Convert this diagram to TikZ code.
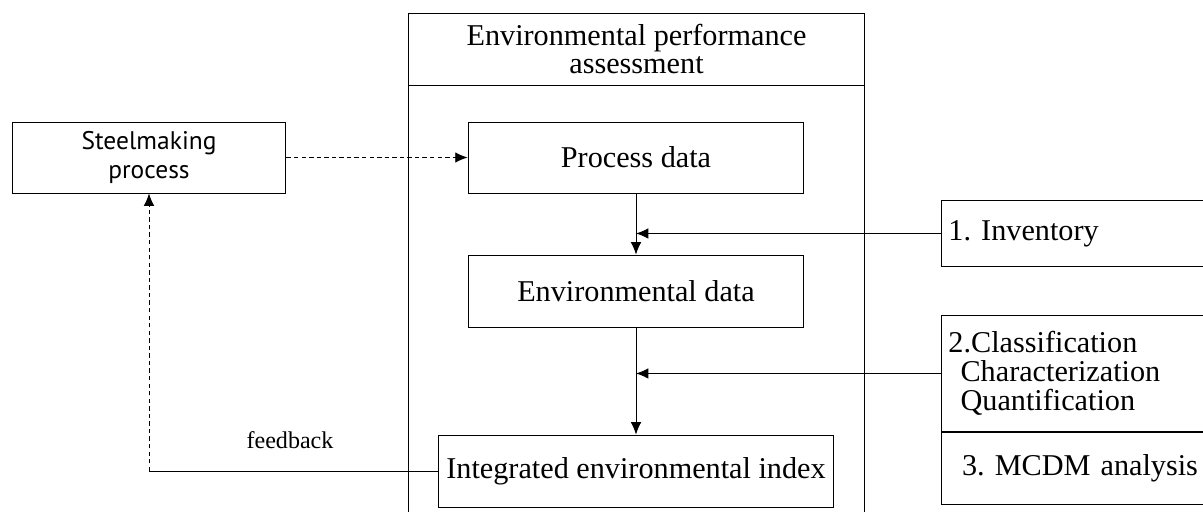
\documentclass[tikz,border=0pt]{standalone}
\usepackage{fontspec}
\setmainfont{Liberation Serif}
\newfontfamily\procfont{PT Sans}
\usetikzlibrary{arrows.meta}

\begin{document}
\begin{tikzpicture}[x=0.02cm, y=-0.02cm, line width=0.55pt,
  box/.style={rectangle, draw, inner sep=0pt},
  txt/.style={font=\fontsize{17.2}{16.5}\selectfont},
  side/.style={box, txt, anchor=north west, text width=6cm, inner xsep=0.14cm, align=left},
  arr/.style={-{Latex[length=7pt, width=6pt]}},
  dsh/.style={dash pattern=on 2.5pt off 1.8pt}]

\useasboundingbox (0,0) rectangle (1203,511);
\clip (0,0) rectangle (1203,511);

\node [box, minimum width=9.14cm, minimum height=10.6cm] (v1) at (636.5,278) {};
\node [box, txt, align=center, minimum width=9.14cm, minimum height=1.44cm] (v2) at (636.5,49) {Environmental performance\\assessment};

\node [box, font=\procfont\fontsize{14.5}{16}\selectfont, align=center, minimum width=5.48cm, minimum height=1.42cm] (v3) at (149,157.5) {Steelmaking\\process};
\node [box, txt, minimum width=6.72cm, minimum height=1.42cm] (v4) at (636,157.5) {Process data};
\node [box, txt, minimum width=6.72cm, minimum height=1.44cm] (v5) at (636,291) {Environmental data};
\node [box, txt, minimum width=7.9cm, minimum height=1.44cm] (v6) at (636,471) {Integrated environmental index};

\node [side, minimum height=1.32cm] (v7) at (941,200) {1.\ Inventory};
\node [side, minimum height=2.32cm] (v8) at (941,315) {2.Classification\\\hspace*{0.4em}Characterization\\\hspace*{0.4em}Quantification};
\node [side, minimum height=1.44cm] (v9) at (v8.south west) {\hspace*{0.45em}3.\ MCDM analysis};

\draw [arr, dsh] (v3) edge (v4);
\draw [arr] (v4) edge (v5);
\draw [arr] (v5) edge (v6);

\coordinate (c1) at (v4.south |- v7.west);
\coordinate (c2) at (v5.south |- v8.west);
\coordinate (c3) at (v3.south |- v6.west);
\draw [arr] (v7.west) -- (c1);
\draw [arr] (v8.west) -- (c2);
\draw  (v6.west) -- (c3);
\draw [arr, dsh] (c3) -- (v3.south);

\node [font=\fontsize{13.7}{16}\selectfont] (v10) at (290,440) {feedback};
\end{tikzpicture}
\end{document}
